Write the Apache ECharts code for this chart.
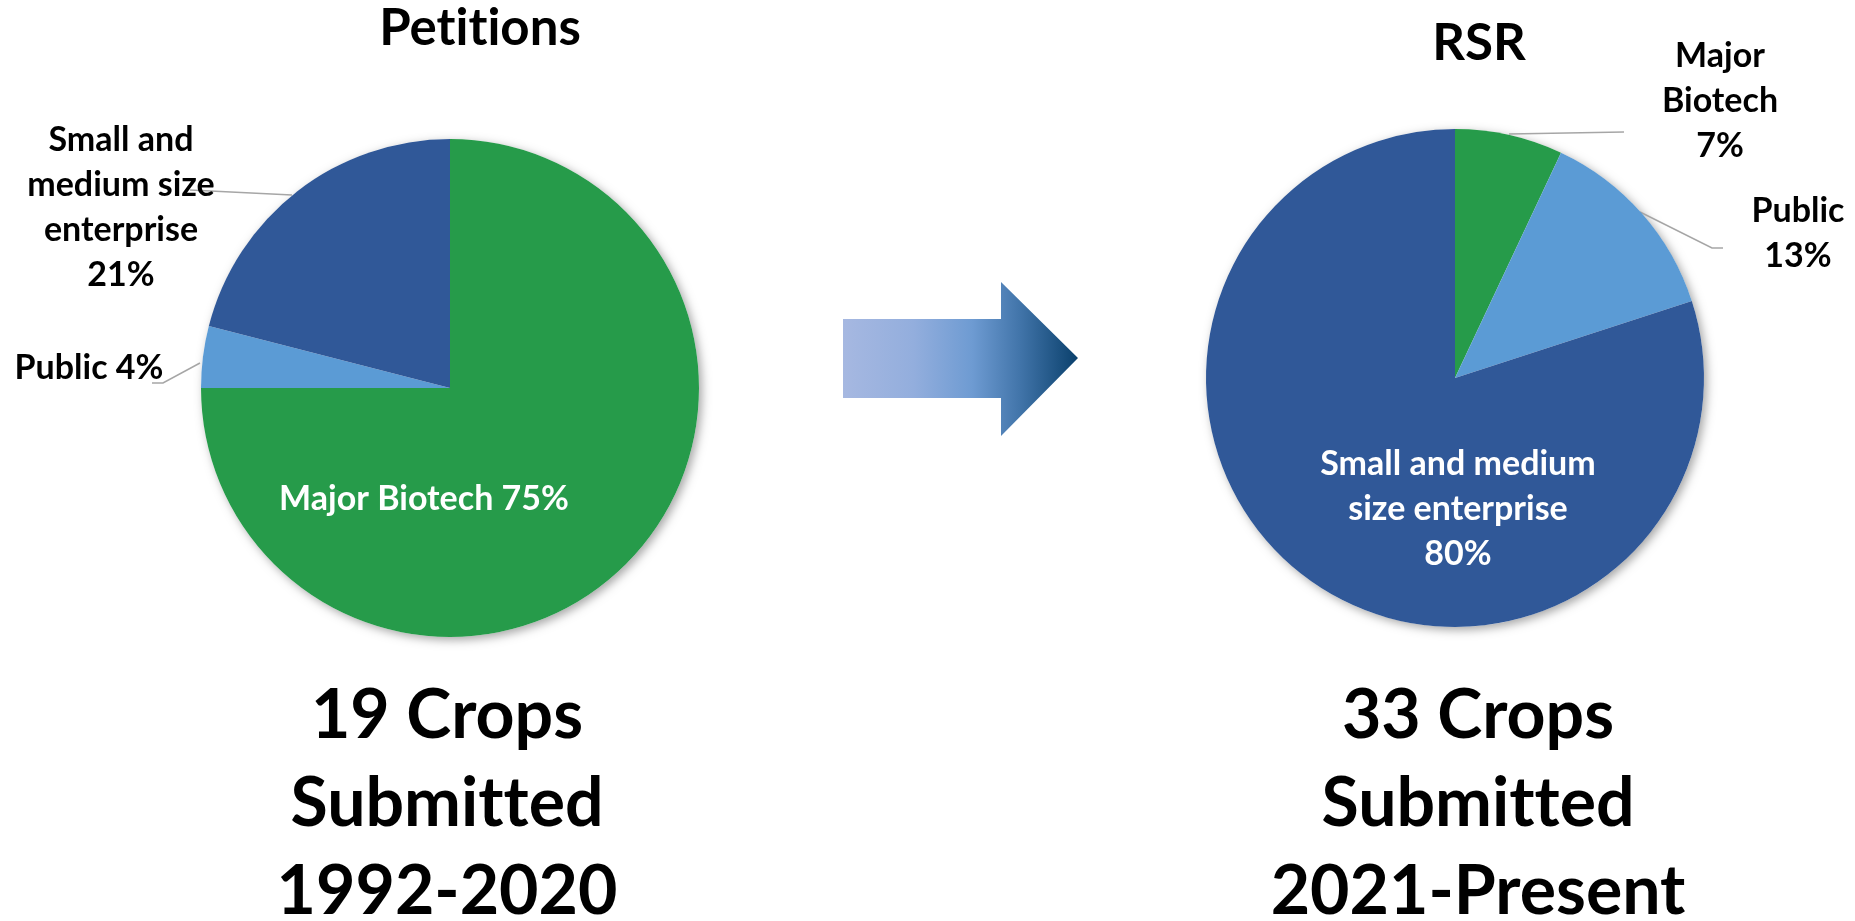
<!DOCTYPE html>
<html>
<head>
<meta charset="utf-8">
<script src="https://cdn.jsdelivr.net/npm/echarts@6/dist/echarts.min.js"></script>
<style>
html,body{margin:0;padding:0;background:#fff;}
#chart{width:1855px;height:921px;}
</style>
</head>
<body>
<div id="chart"></div>
<script>
// ---- data ----
const categories = ['Major Biotech', 'Public', 'Small and medium size enterprise'];
const petitionsValues = [75, 4, 21];
const rsrValues = [7, 13, 80];
const leftTitle = 'Petitions';
const rightTitle = 'RSR';
const leftCaption = ['19 Crops', 'Submitted', '1992-2020'];
const rightCaption = ['33 Crops', 'Submitted', '2021-Present'];
// label text line breaks (display only)
const leftLabelNames = ['Major Biotech', 'Public', 'Small and\nmedium size\nenterprise'];
const leftLabelSep = [' ', ' ', '\n'];
const rightLabelNames = ['Major\nBiotech', 'Public', 'Small and medium\nsize enterprise'];
const rightLabelSep = ['\n', '\n', '\n'];

const colors = ['#269B4A', '#5B9BD5', '#305898'];
const FONT = 'Lato, "Open Sans", sans-serif';

// avoid font ligatures (tt, ti) by inserting a zero-width non-joiner
function noLig(s) { return s.replace(/t(?=[ti])/g, 't\u200C'); }

// label placement (layout)
const leftLayout = [
  {x: 424, y: 499},
  {x: 89, y: 368, line: [[200, 363], [163, 383], [152, 383]]},
  {x: 121, y: 208, line: [[292, 195], [190, 190]]}
];
const rightLayout = [
  {x: 1720, y: 101, line: [[1509, 134], [1624, 132]]},
  {x: 1798, y: 234, line: [[1640, 212], [1712, 248], [1723, 248]]},
  {x: 1458, y: 509}
];

function makeData(values, insideIdx) {
  return values.map((v, i) => ({
    name: categories[i],
    value: v,
    itemStyle: {color: colors[i]},
    label: i === insideIdx ? {color: '#fff'} : {color: '#000'},
    labelLine: {show: i !== insideIdx}
  }));
}

function pieSeries(center, values, insideIdx, names, seps, layout) {
  return {
    type: 'pie',
    center: center,
    radius: 249,
    startAngle: 90,
    clockwise: true,
    avoidLabelOverlap: false,
    animation: false,
    silent: true,
    z: 2,
    data: makeData(values, insideIdx),
    label: {
      show: true,
      position: 'outside',
      fontFamily: FONT,
      fontWeight: 'bold',
      fontSize: 34,
      lineHeight: 45,
      align: 'center',
      formatter: p => names[p.dataIndex] + seps[p.dataIndex] + p.value + '%'
    },
    labelLine: {show: true, lineStyle: {color: '#A6A6A6', width: 1.5}},
    labelLayout: function (params) {
      const L = layout[params.dataIndex];
      const o = {x: L.x, y: L.y, align: 'center', verticalAlign: 'middle'};
      if (L.line) o.labelLinePoints = L.line;
      return o;
    }
  };
}

function shadowDisk(center) {
  return {
    type: 'pie', center: center, radius: 249, silent: true, animation: false, z: 1,
    label: {show: false}, labelLine: {show: false},
    data: [{value: 1, itemStyle: {color: '#fff', shadowBlur: 10, shadowColor: 'rgba(0,0,0,0.35)', shadowOffsetX: 3, shadowOffsetY: 3}}]
  };
}

const chart = echarts.init(document.getElementById('chart'), null, {renderer: 'canvas'});
chart.setOption({
  backgroundColor: '#fff',
  animation: false,
  series: [
    shadowDisk([450, 388]),
    shadowDisk([1455, 378]),
    pieSeries([450, 388], petitionsValues, 0, leftLabelNames, leftLabelSep, leftLayout),
    pieSeries([1455, 378], rsrValues, 2, rightLabelNames, rightLabelSep, rightLayout)
  ],
  graphic: [
    {type: 'text', x: 480, y: 29, style: {text: noLig(leftTitle), font: 'bold 51px ' + FONT, fill: '#000', textAlign: 'center', textVerticalAlign: 'middle'}},
    {type: 'text', x: 1479, y: 44, style: {text: rightTitle, font: 'bold 51px ' + FONT, fill: '#000', textAlign: 'center', textVerticalAlign: 'middle'}},
    {type: 'text', x: 447, y: 804, style: {text: leftCaption.map(noLig).join('\n'), font: 'bold 68px ' + FONT, lineHeight: 88, fill: '#000', textAlign: 'center', textVerticalAlign: 'middle'}},
    {type: 'text', x: 1478, y: 804, style: {text: rightCaption.map(noLig).join('\n'), font: 'bold 68px ' + FONT, lineHeight: 88, fill: '#000', textAlign: 'center', textVerticalAlign: 'middle'}},
    {type: 'polygon', silent: true,
     shape: {points: [[843, 319], [1001, 319], [1001, 282], [1078, 358], [1001, 436], [1001, 398], [843, 398]]},
     style: {fill: new echarts.graphic.LinearGradient(0, 0, 1, 0, [
       {offset: 0, color: '#A6B8E1'}, {offset: 0.3, color: '#93AEDD'}, {offset: 0.55, color: '#6E9BD2'},
       {offset: 0.75, color: '#4275AA'}, {offset: 1, color: '#0A406C'}])}}
  ]
});
</script>
</body>
</html>
